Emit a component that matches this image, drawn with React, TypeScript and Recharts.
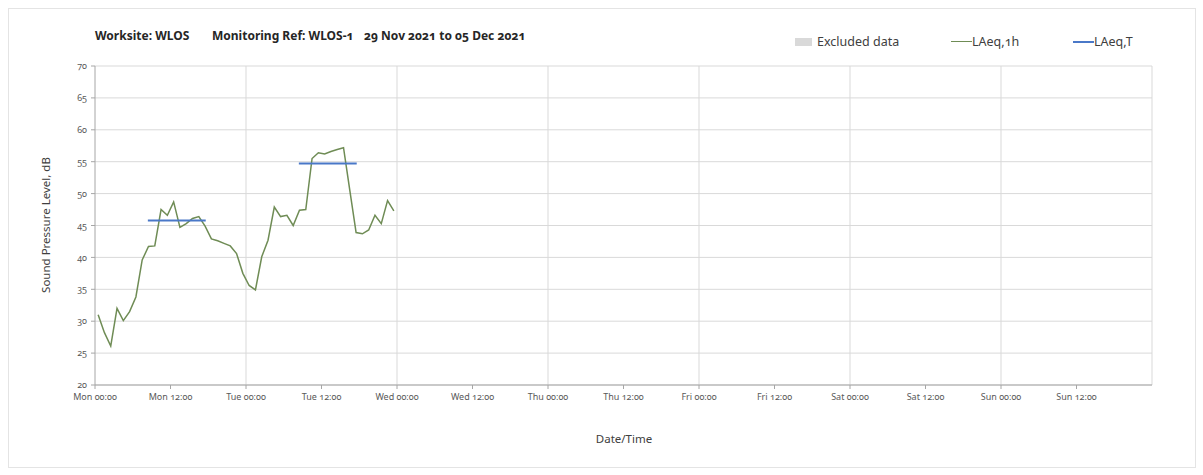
import React from 'react';
import { LineChart, Line, XAxis, YAxis, CartesianGrid, ReferenceLine } from 'recharts';

// hourly LAeq,1h values, plotted at the middle of each hour (hours from Mon 00:00)
const hours = [
  0.5, 1.5, 2.5, 3.5, 4.5, 5.5, 6.5, 7.5, 8.5, 9.5, 10.5, 11.5,
  12.5, 13.5, 14.5, 15.5, 16.5, 17.5, 18.5, 19.5, 20.5, 21.5, 22.5, 23.5,
  24.5, 25.5, 26.5, 27.5, 28.5, 29.5, 30.5, 31.5, 32.5, 33.5, 34.5, 35.5,
  36.5, 37.5, 38.5, 39.5, 40.5, 41.5, 42.5, 43.5, 44.5, 45.5, 46.5, 47.5,
];
const laeq1h = [
  31.0, 28.2, 26.1, 32.0, 30.1, 31.5, 33.8, 39.6, 41.7, 41.8, 47.5, 46.6,
  48.7, 44.7, 45.3, 46.1, 46.4, 44.9, 42.9, 42.6, 42.2, 41.8, 40.6, 37.5,
  35.6, 34.9, 40.1, 42.7, 47.9, 46.4, 46.6, 45.0, 47.4, 47.5, 55.5, 56.4,
  56.2, 56.6, 56.9, 57.2, 50.5, 43.9, 43.7, 44.3, 46.6, 45.3, 48.9, 47.3,
];

// LAeq,T periods
const periodStart = [8.4, 32.4];
const periodEnd = [17.6, 41.6];
const periodLevel = [45.8, 54.7];

const xTicks = [0, 12, 24, 36, 48, 60, 72, 84, 96, 108, 120, 132, 144, 156];
const xTickLabels = [
  'Mon 00:00', 'Mon 12:00', 'Tue 00:00', 'Tue 12:00', 'Wed 00:00', 'Wed 12:00', 'Thu 00:00',
  'Thu 12:00', 'Fri 00:00', 'Fri 12:00', 'Sat 00:00', 'Sat 12:00', 'Sun 00:00', 'Sun 12:00',
];
const dayLines = [24, 48, 72, 96, 120, 144, 168];
const yTicks = [20, 25, 30, 35, 40, 45, 50, 55, 60, 65, 70];

const titleParts = ['Worksite: WLOS', 'Monitoring Ref: WLOS-1', '29 Nov 2021 to 05 Dec 2021'];

const font = '"Noto Sans", sans-serif';
const green = '#6f8c55';
const blue = '#4a78c8';

export default function App() {
  const hourly = hours.map((h, i) => ({ h, v: laeq1h[i] }));
  const periods = periodStart.map((s, i) => [
    { h: s, v: periodLevel[i] },
    { h: periodEnd[i], v: periodLevel[i] },
  ]);
  const titleLeft = [95, 212, 364];

  return (
    <div style={{ position: 'absolute', left: 0, top: 0, width: 1203, height: 475, background: '#fff', fontFamily: font, fontVariantNumeric: 'oldstyle-nums' }}>
      <div style={{ position: 'absolute', left: 8, top: 8, width: 1186, height: 458, border: '1px solid #e4e4e4' }} />

      {titleParts.map((t, i) => (
        <div key={t} style={{ position: 'absolute', top: 27, left: titleLeft[i], fontSize: 12, fontWeight: 700, color: '#262626', whiteSpace: 'pre' }}>
          {t}
        </div>
      ))}

      <div style={{ position: 'absolute', top: 33, left: 795, fontSize: 12.5, color: '#404040', display: 'flex', alignItems: 'center' }}>
        <span style={{ display: 'inline-block', width: 17, height: 8, background: '#d9d9d9', marginRight: 5 }} />
        <span style={{ width: 134 }}>Excluded data</span>
        <span style={{ display: 'inline-block', width: 21, height: 1.5, background: green }} />
        <span style={{ width: 101 }}>LAeq,1h</span>
        <span style={{ display: 'inline-block', width: 21, height: 2, background: blue }} />
        <span>LAeq,T</span>
      </div>

      <div style={{ position: 'absolute', left: 45, top: 225, transform: 'translate(-50%, -50%) rotate(-90deg)', fontSize: 11.5, color: '#404040', whiteSpace: 'nowrap' }}>
        Sound Pressure Level, dB
      </div>
      <div style={{ position: 'absolute', left: 624, top: 438, transform: 'translate(-50%, -50%)', fontSize: 11.5, color: '#404040' }}>
        Date/Time
      </div>

      <LineChart width={1203} height={475} margin={{ top: 66, right: 51, bottom: 60, left: 55 }}>
        <CartesianGrid vertical={false} stroke="#d9d9d9" />
        {dayLines.map((d) => (
          <ReferenceLine key={d} x={d} stroke="#d9d9d9" />
        ))}
        <XAxis
          dataKey="h"
          type="number"
          domain={[0, 168]}
          ticks={xTicks}
          interval={0}
          height={30}
          tickFormatter={(v) => xTickLabels[xTicks.indexOf(v)] ?? ''}
          stroke="#a6a6a6"
          tickSize={4}
          tickMargin={5}
          tick={{ fontSize: 9, fill: '#595959', fontFamily: font }}
        />
        <YAxis
          type="number"
          domain={[20, 70]}
          ticks={yTicks}
          interval={0}
          width={40}
          stroke="#a6a6a6"
          tickSize={4}
          tickMargin={4}
          tick={{ fontSize: 9, fill: '#595959', fontFamily: font }}
        />
        <Line data={hourly} dataKey="v" stroke={green} strokeWidth={1.5} dot={false} isAnimationActive={false} />
        {periods.map((p, i) => (
          <Line key={i} data={p} dataKey="v" stroke={blue} strokeWidth={2} dot={false} isAnimationActive={false} />
        ))}
      </LineChart>
    </div>
  );
}
